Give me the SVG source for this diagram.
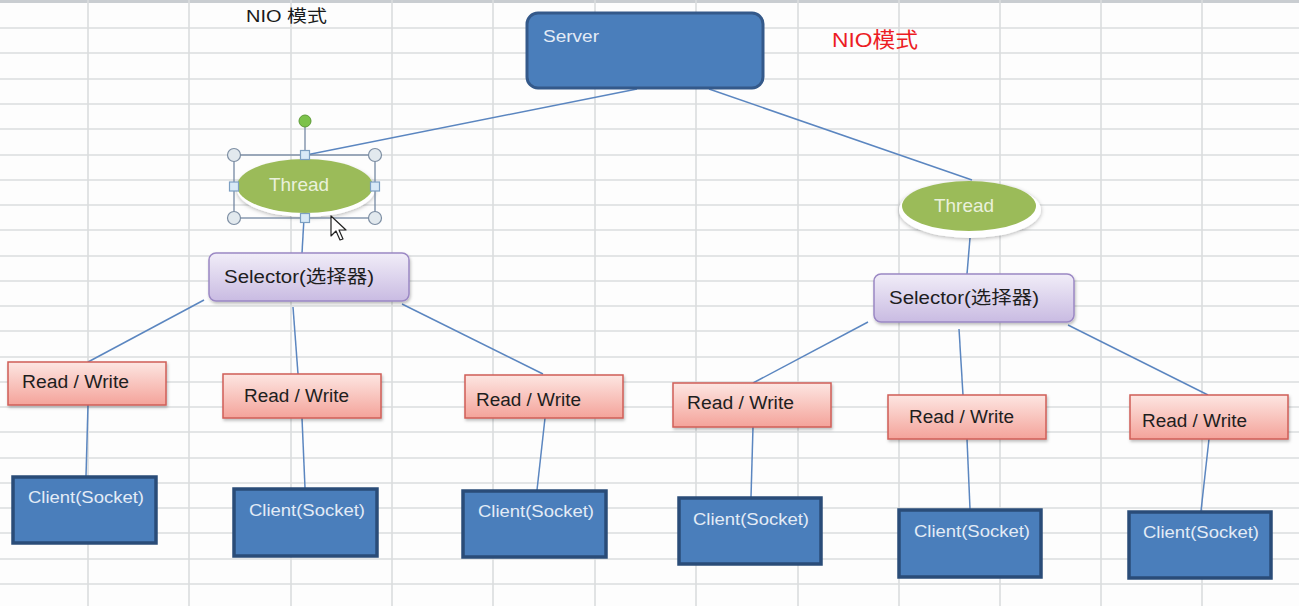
<svg xmlns="http://www.w3.org/2000/svg" width="1299" height="606" viewBox="0 0 1299 606">
<defs>
<style>
.grid line{stroke:#dadcde;stroke-width:1.6}
.conn line{stroke:#5b86c0;stroke-width:1.5}
.blue{fill:#4a7ebb}
.srv{stroke:#34598a;stroke-width:3}
.cli{stroke:#2a4c78;stroke-width:3.5}
.lt{font-family:"Liberation Sans",Arial,sans-serif;fill:#e3ebf6;font-size:17px}
.tt{font-family:"Liberation Sans",Arial,sans-serif;fill:#eaf1dc;font-size:19px}
.dk{font-family:"Liberation Sans","Noto Sans CJK SC",sans-serif;fill:#1e1e1e;font-size:18px}
.sel{fill:url(#gSel);stroke:#9b88c4;stroke-width:1.5}
.rw{fill:url(#gRw);stroke:#cf5e57;stroke-width:1.5}
.th{fill:#9bbb59}
.hc{fill:#e2e9ee;stroke:#7d8ea3;stroke-width:1.2}
.hs{fill:#d8e9f7;stroke:#7c9fc2;stroke-width:1.2}
</style>
<linearGradient id="gSel" x1="0" y1="0" x2="0" y2="1">
<stop offset="0" stop-color="#f1edf8"/>
<stop offset="1" stop-color="#c9bbe2"/>
</linearGradient>
<linearGradient id="gRw" x1="0" y1="0" x2="0" y2="1">
<stop offset="0" stop-color="#fde6e2"/>
<stop offset="1" stop-color="#f4a39a"/>
</linearGradient>
<filter id="sh" x="-10%" y="-20%" width="120%" height="150%">
<feDropShadow dx="1" dy="2" stdDeviation="1.5" flood-color="#000" flood-opacity="0.25"/>
</filter>
<filter id="glow" x="-20%" y="-30%" width="140%" height="170%">
<feDropShadow dx="0" dy="1" stdDeviation="2" flood-color="#000" flood-opacity="0.3"/>
</filter>
</defs>
<rect width="1299" height="606" fill="#fdfdfd"/>
<rect width="1299" height="3" fill="#c9cdd1"/>
<g class="grid">
<line x1="88" y1="0" x2="88" y2="606"/><line x1="189" y1="0" x2="189" y2="606"/><line x1="291" y1="0" x2="291" y2="606"/><line x1="392" y1="0" x2="392" y2="606"/><line x1="493" y1="0" x2="493" y2="606"/><line x1="595" y1="0" x2="595" y2="606"/><line x1="696" y1="0" x2="696" y2="606"/><line x1="798" y1="0" x2="798" y2="606"/><line x1="899" y1="0" x2="899" y2="606"/><line x1="1000" y1="0" x2="1000" y2="606"/><line x1="1101" y1="0" x2="1101" y2="606"/><line x1="1202" y1="0" x2="1202" y2="606"/>
<line x1="0" y1="28" x2="1299" y2="28"/><line x1="0" y1="53" x2="1299" y2="53"/><line x1="0" y1="79" x2="1299" y2="79"/><line x1="0" y1="104" x2="1299" y2="104"/><line x1="0" y1="129" x2="1299" y2="129"/><line x1="0" y1="155" x2="1299" y2="155"/><line x1="0" y1="180" x2="1299" y2="180"/><line x1="0" y1="205" x2="1299" y2="205"/><line x1="0" y1="230" x2="1299" y2="230"/><line x1="0" y1="256" x2="1299" y2="256"/><line x1="0" y1="281" x2="1299" y2="281"/><line x1="0" y1="306" x2="1299" y2="306"/><line x1="0" y1="331" x2="1299" y2="331"/><line x1="0" y1="357" x2="1299" y2="357"/><line x1="0" y1="382" x2="1299" y2="382"/><line x1="0" y1="407" x2="1299" y2="407"/><line x1="0" y1="432" x2="1299" y2="432"/><line x1="0" y1="458" x2="1299" y2="458"/><line x1="0" y1="483" x2="1299" y2="483"/><line x1="0" y1="508" x2="1299" y2="508"/><line x1="0" y1="533" x2="1299" y2="533"/><line x1="0" y1="559" x2="1299" y2="559"/><line x1="0" y1="584" x2="1299" y2="584"/>
</g>
<text x="246" y="22" font-family="'Liberation Sans','Noto Sans CJK SC',sans-serif" font-size="17" fill="#1a1a1a" textLength="81" lengthAdjust="spacingAndGlyphs">NIO 模式</text>
<text x="832" y="47" font-family="'Liberation Sans','Noto Sans CJK SC',sans-serif" font-size="21" fill="#ec1c24" textLength="86" lengthAdjust="spacingAndGlyphs">NIO模式</text>
<g class="conn">
<line x1="637" y1="89" x2="306" y2="155"/>
<line x1="709" y1="89" x2="972" y2="180"/>
<line x1="304" y1="218" x2="302" y2="253"/>
<line x1="970" y1="238" x2="967" y2="274"/>
<line x1="204" y1="300" x2="88" y2="362"/>
<line x1="293" y1="307" x2="298" y2="374"/>
<line x1="402" y1="304" x2="543" y2="374"/>
<line x1="868" y1="322" x2="753" y2="383"/>
<line x1="959" y1="329" x2="963" y2="395"/>
<line x1="1068" y1="325" x2="1208" y2="395"/>
<line x1="88" y1="405" x2="86" y2="476"/>
<line x1="302" y1="418" x2="305" y2="488"/>
<line x1="545" y1="418" x2="537" y2="490"/>
<line x1="753" y1="427" x2="751" y2="497"/>
<line x1="967" y1="439" x2="970" y2="509"/>
<line x1="1209" y1="439" x2="1201" y2="511"/>
</g>
<g id="server">
<rect x="527" y="13" width="236" height="75" rx="11" class="blue srv"/>
<text x="543" y="42" class="lt" textLength="56" lengthAdjust="spacingAndGlyphs">Server</text>
</g>
<g id="thread-left">
<ellipse cx="306" cy="189" rx="69" ry="28" fill="#ffffff" filter="url(#glow)"/>
<ellipse cx="305" cy="186" rx="68" ry="27" class="th"/>
<text x="299" y="191" class="tt" text-anchor="middle" textLength="60" lengthAdjust="spacingAndGlyphs">Thread</text>
<rect x="234" y="155" width="141" height="63" fill="none" stroke="#6a7f9c" stroke-width="1.2"/>
<line x1="305" y1="127" x2="305" y2="151" stroke="#6a7f9c" stroke-width="1.2"/>
<circle cx="305" cy="121" r="6" fill="#7cc24a" stroke="#5d9a36" stroke-width="1"/>
<circle cx="234" cy="155" r="6.5" class="hc"/><circle cx="375" cy="155" r="6.5" class="hc"/><circle cx="234" cy="218" r="6.5" class="hc"/><circle cx="375" cy="218" r="6.5" class="hc"/>
<rect x="300.5" y="150.5" width="9" height="9" class="hs"/><rect x="300.5" y="213.5" width="9" height="9" class="hs"/><rect x="229.5" y="182" width="9" height="9" class="hs"/><rect x="370.5" y="182" width="9" height="9" class="hs"/>
<polygon points="331,216 331,236 336,231 340,240 343,239 339,230 346,230" fill="#ffffff" stroke="#222" stroke-width="1.2" stroke-linejoin="round"/>
</g>
<g id="thread-right">
<ellipse cx="970" cy="210" rx="71" ry="28" fill="#ffffff" filter="url(#glow)"/>
<ellipse cx="969" cy="206" rx="67" ry="25" class="th"/>
<text x="964" y="212" class="tt" text-anchor="middle" textLength="60" lengthAdjust="spacingAndGlyphs">Thread</text>
</g>
<g id="selector-left">
<rect x="209" y="253" width="200" height="48" rx="7" class="sel" filter="url(#sh)"/>
<text x="224" y="283" class="dk" textLength="150" lengthAdjust="spacingAndGlyphs">Selector(选择器)</text>
</g>
<g id="selector-right">
<rect x="874" y="274" width="200" height="48" rx="7" class="sel" filter="url(#sh)"/>
<text x="889" y="304" class="dk" textLength="150" lengthAdjust="spacingAndGlyphs">Selector(选择器)</text>
</g>
<g id="rw1"><rect x="8" y="362" width="158" height="43" class="rw" filter="url(#sh)"/><text x="22" y="388" class="dk" textLength="107" lengthAdjust="spacingAndGlyphs">Read / Write</text></g>
<g id="rw2"><rect x="223" y="374" width="158" height="44" class="rw" filter="url(#sh)"/><text x="244" y="402" class="dk" textLength="105" lengthAdjust="spacingAndGlyphs">Read / Write</text></g>
<g id="rw3"><rect x="465" y="375" width="158" height="43" class="rw" filter="url(#sh)"/><text x="476" y="406" class="dk" textLength="105" lengthAdjust="spacingAndGlyphs">Read / Write</text></g>
<g id="rw4"><rect x="673" y="383" width="158" height="44" class="rw" filter="url(#sh)"/><text x="687" y="409" class="dk" textLength="107" lengthAdjust="spacingAndGlyphs">Read / Write</text></g>
<g id="rw5"><rect x="888" y="395" width="158" height="44" class="rw" filter="url(#sh)"/><text x="909" y="423" class="dk" textLength="105" lengthAdjust="spacingAndGlyphs">Read / Write</text></g>
<g id="rw6"><rect x="1130" y="395" width="158" height="44" class="rw" filter="url(#sh)"/><text x="1142" y="427" class="dk" textLength="105" lengthAdjust="spacingAndGlyphs">Read / Write</text></g>
<g id="client1"><rect x="13" y="477" width="143" height="66" class="blue cli"/><text x="28" y="503" class="lt" textLength="116" lengthAdjust="spacingAndGlyphs">Client(Socket)</text></g>
<g id="client2"><rect x="234" y="489" width="143" height="67" class="blue cli"/><text x="249" y="516" class="lt" textLength="116" lengthAdjust="spacingAndGlyphs">Client(Socket)</text></g>
<g id="client3"><rect x="463" y="491" width="143" height="66" class="blue cli"/><text x="478" y="517" class="lt" textLength="116" lengthAdjust="spacingAndGlyphs">Client(Socket)</text></g>
<g id="client4"><rect x="679" y="498" width="142" height="66" class="blue cli"/><text x="693" y="525" class="lt" textLength="116" lengthAdjust="spacingAndGlyphs">Client(Socket)</text></g>
<g id="client5"><rect x="899" y="510" width="142" height="67" class="blue cli"/><text x="914" y="537" class="lt" textLength="116" lengthAdjust="spacingAndGlyphs">Client(Socket)</text></g>
<g id="client6"><rect x="1129" y="512" width="142" height="66" class="blue cli"/><text x="1143" y="538" class="lt" textLength="116" lengthAdjust="spacingAndGlyphs">Client(Socket)</text></g>
</svg>
